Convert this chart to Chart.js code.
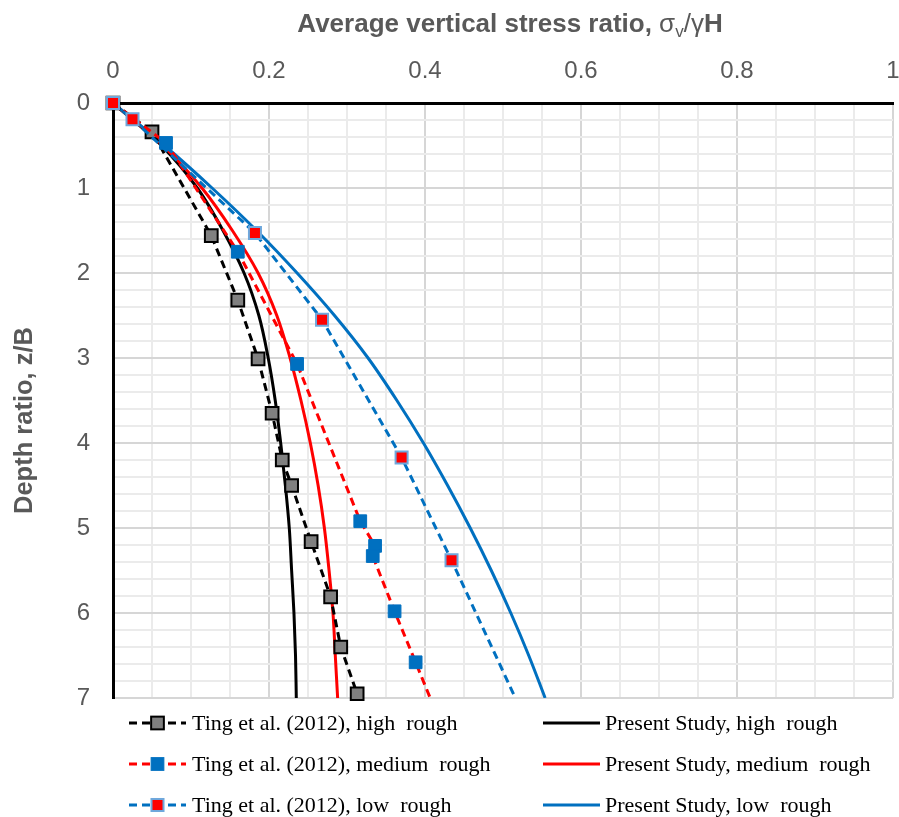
<!DOCTYPE html>
<html>
<head>
<meta charset="utf-8">
<script src="https://cdn.jsdelivr.net/npm/chart.js@4.4.1/dist/chart.umd.min.js"></script>
<style>
  html, body { margin: 0; padding: 0; background: #fff; }
</style>
</head>
<body>
<canvas id="stressChart" width="899" height="817"></canvas>
<script>
// depth ratio z/B on the (reversed) y axis, stress ratio on the top x axis
const tingHighDepth = [0, 0.34, 1.56, 2.32, 3.01, 3.65, 4.2, 4.5, 5.16, 5.81, 6.4, 6.95];
const tingHighStress = [0, 0.05, 0.126, 0.160, 0.186, 0.204, 0.217, 0.229, 0.254, 0.279, 0.292, 0.313];

const tingMediumDepth = [0, 0.47, 1.75, 3.07, 4.92, 5.21, 5.33, 5.98, 6.58, 7.3];
const tingMediumStress = [0, 0.068, 0.160, 0.236, 0.317, 0.336, 0.333, 0.361, 0.388, 0.420];

const tingLowDepth = [0, 0.19, 1.53, 2.55, 4.17, 5.38, 7.3];
const tingLowStress = [0, 0.025, 0.182, 0.268, 0.370, 0.434, 0.531];

const studyDepth = [0, 0.5, 1, 1.5, 2, 2.5, 3, 3.5, 4, 4.5, 5, 5.5, 6, 6.5, 7];
const studyHighStress = [0, 0.062, 0.108, 0.141, 0.168, 0.187, 0.199, 0.208, 0.215, 0.221, 0.226, 0.229, 0.232, 0.234, 0.235];
const studyMediumStress = [0, 0.064, 0.114, 0.153, 0.186, 0.210, 0.227, 0.241, 0.253, 0.263, 0.271, 0.277, 0.282, 0.285, 0.288];
const studyLowStress = [0, 0.066, 0.127, 0.184, 0.236, 0.284, 0.327, 0.364, 0.398, 0.429, 0.458, 0.485, 0.510, 0.533, 0.554];

const stressTickLabels = ['0', '0.2', '0.4', '0.6', '0.8', '1'];
const depthTickLabels = ['0', '1', '2', '3', '4', '5', '6', '7'];

const seriesNames = [
  'Ting et al. (2012), high  rough',
  'Ting et al. (2012), medium  rough',
  'Ting et al. (2012), low  rough',
  'Present Study, high  rough',
  'Present Study, medium  rough',
  'Present Study, low  rough'
];

const BLACK = '#000000';
const RED = '#ff0000';
const BLUE = '#0070c0';
const GREY_TEXT = '#595959';

const toPoints = (depth, stress) => depth.map((z, i) => ({ x: stress[i], y: z }));

// measured points: markers may overlap the axes at the origin, lines stop at z/B = 7
const tingStyle = {
  showLine: true,
  borderWidth: 3,
  borderDash: [8, 5],
  tension: 0,
  pointStyle: 'rect',
  pointRadius: 9,
  pointHoverRadius: 9,
  clip: { left: 12, top: 12, right: 0, bottom: 0 }
};
// smooth curves, monotone along the depth axis
const studyStyle = {
  showLine: true,
  borderWidth: 3,
  cubicInterpolationMode: 'monotone',
  pointRadius: 0,
  pointHoverRadius: 0
};

const datasets = [
  Object.assign({}, tingStyle, {
    label: seriesNames[0],
    data: toPoints(tingHighDepth, tingHighStress),
    borderColor: BLACK,
    pointBackgroundColor: '#808080',
    pointBorderColor: BLACK,
    pointBorderWidth: 2,
    clip: { left: 12, top: 12, right: 0, bottom: 12 },
    order: 2
  }),
  Object.assign({}, tingStyle, {
    label: seriesNames[1],
    data: toPoints(tingMediumDepth, tingMediumStress),
    borderColor: RED,
    pointBackgroundColor: BLUE,
    pointBorderColor: BLUE,
    pointBorderWidth: 1,
    order: 1
  }),
  Object.assign({}, tingStyle, {
    label: seriesNames[2],
    data: toPoints(tingLowDepth, tingLowStress),
    borderColor: BLUE,
    pointBackgroundColor: RED,
    pointBorderColor: '#6fa8dc',
    pointBorderWidth: 2,
    pointRadius: 8.5,
    order: 0
  }),
  Object.assign({}, studyStyle, {
    label: seriesNames[3],
    data: toPoints(studyDepth, studyHighStress),
    borderColor: BLACK,
    order: 5
  }),
  Object.assign({}, studyStyle, {
    label: seriesNames[4],
    data: toPoints(studyDepth, studyMediumStress),
    borderColor: RED,
    order: 4
  }),
  Object.assign({}, studyStyle, {
    label: seriesNames[5],
    data: toPoints(studyDepth, studyLowStress),
    borderColor: BLUE,
    order: 3
  })
];

const nearMultiple = (v, step) => Math.abs(v / step - Math.round(v / step)) < 1e-6;

// axis titles, with the subscript in sigma_v
const axisTitles = {
  id: 'axisTitles',
  afterDraw(chart) {
    const ctx = chart.ctx;
    const family = '"Liberation Sans", Arial, sans-serif';
    const parts = [
      { text: 'Average vertical stress ratio, ', font: 'bold 26px ' + family, dy: 0 },
      { text: 'σ', font: '26px ' + family, dy: 0 },
      { text: 'v', font: '17px ' + family, dy: 5 },
      { text: '/γ', font: '26px ' + family, dy: 0 },
      { text: 'H', font: 'bold 26px ' + family, dy: 0 }
    ];
    ctx.save();
    ctx.fillStyle = GREY_TEXT;
    ctx.textBaseline = 'alphabetic';
    let total = 0;
    parts.forEach(p => { ctx.font = p.font; p.w = ctx.measureText(p.text).width; total += p.w; });
    let x = 510 - total / 2;
    parts.forEach(p => {
      ctx.font = p.font;
      ctx.fillText(p.text, x, 32 + p.dy);
      x += p.w;
    });

    const { top, bottom } = chart.chartArea;
    ctx.translate(25, (top + bottom) / 2 + 20);
    ctx.rotate(-Math.PI / 2);
    ctx.font = 'bold 25.5px ' + family;
    ctx.textAlign = 'center';
    ctx.textBaseline = 'middle';
    ctx.fillText('Depth ratio, z/B', 0, 0);
    ctx.restore();
  }
};

// two-column legend under the plot
const tableLegend = {
  id: 'tableLegend',
  afterDraw(chart) {
    const ctx = chart.ctx;
    const columns = [{ x0: 129, x1: 186, tx: 192 }, { x0: 543, x1: 600, tx: 605 }];
    const rows = [723, 764, 805];
    chart.data.datasets.forEach((ds, i) => {
      const col = columns[i < 3 ? 0 : 1];
      const y = rows[i % 3];
      ctx.save();
      ctx.strokeStyle = ds.borderColor;
      ctx.lineWidth = ds.borderWidth;
      ctx.setLineDash(ds.borderDash || []);
      ctx.beginPath();
      ctx.moveTo(col.x0, y);
      ctx.lineTo(col.x1, y);
      ctx.stroke();
      ctx.setLineDash([]);
      if (ds.pointRadius > 0) {
        const s = ds.pointRadius * Math.SQRT1_2;
        const cx = (col.x0 + col.x1) / 2;
        ctx.fillStyle = ds.pointBackgroundColor;
        ctx.strokeStyle = ds.pointBorderColor;
        ctx.lineWidth = ds.pointBorderWidth;
        ctx.fillRect(cx - s, y - s, 2 * s, 2 * s);
        ctx.strokeRect(cx - s, y - s, 2 * s, 2 * s);
      }
      ctx.fillStyle = '#000';
      ctx.font = '22px "Liberation Serif", "Times New Roman", serif';
      ctx.textBaseline = 'middle';
      ctx.fillText(ds.label, col.tx, y + 1);
      ctx.restore();
    });
  }
};

new Chart(document.getElementById('stressChart'), {
  type: 'scatter',
  data: { datasets: datasets },
  options: {
    responsive: false,
    animation: false,
    indexAxis: 'y',
    layout: { autoPadding: false, padding: { top: 0, left: 0, right: 0, bottom: 119 } },
    plugins: {
      legend: { display: false },
      tooltip: { enabled: false }
    },
    scales: {
      x: {
        type: 'linear',
        position: 'top',
        min: 0,
        max: 1,
        afterFit(scale) {
          scale.height = 103;
          scale.paddingLeft = 0;
          scale.paddingRight = 6;
        },
        border: { display: true, color: BLACK, width: 3 },
        grid: {
          drawTicks: false,
          color: ctx => nearMultiple(ctx.tick.value, 0.2) ? '#d6d6d6' : '#ebebeb',
          lineWidth: 2
        },
        ticks: {
          stepSize: 0.05,
          maxTicksLimit: 100,
          autoSkip: false,
          maxRotation: 0,
          padding: 17,
          color: GREY_TEXT,
          font: { family: '"Liberation Sans", Arial, sans-serif', size: 24 },
          callback: v => nearMultiple(v, 0.2) ? stressTickLabels[Math.round(v / 0.2)] : ''
        }
      },
      y: {
        type: 'linear',
        position: 'left',
        reverse: true,
        min: 0,
        max: 7,
        afterFit(scale) {
          scale.width = 113;
          scale.paddingTop = 0;
          scale.paddingBottom = 0;
        },
        border: { display: true, color: BLACK, width: 3 },
        grid: {
          drawTicks: false,
          color: ctx => nearMultiple(ctx.tick.value, 1) ? '#d6d6d6' : '#ebebeb',
          lineWidth: 2
        },
        ticks: {
          stepSize: 0.2,
          maxTicksLimit: 100,
          autoSkip: false,
          padding: 23,
          color: GREY_TEXT,
          font: { family: '"Liberation Sans", Arial, sans-serif', size: 24 },
          callback: v => nearMultiple(v, 1) ? depthTickLabels[Math.round(v)] : ''
        }
      }
    }
  },
  plugins: [axisTitles, tableLegend]
});
</script>
</body>
</html>
